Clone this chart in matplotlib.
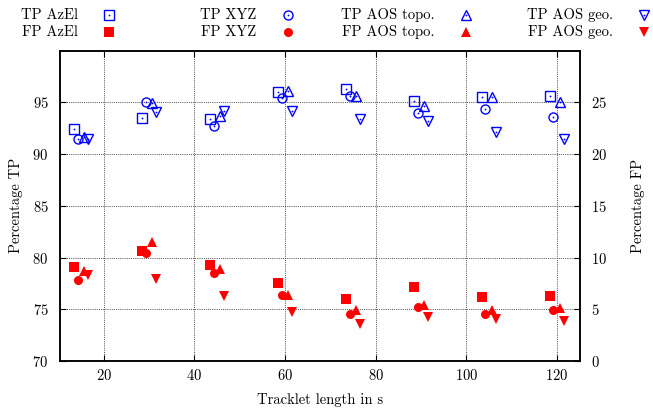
import numpy as np
import matplotlib.pyplot as plt
from matplotlib.lines import Line2D

plt.rcParams["font.family"] = ["cmr10", "DejaVu Serif"]
plt.rcParams["mathtext.fontset"] = "cm"
plt.rcParams["axes.formatter.use_mathtext"] = True
plt.rcParams["font.size"] = 10.5

lengths = np.array([15, 30, 45, 60, 75, 90, 105, 120])

tp_azel = [92.4, 93.5, 93.4, 96.0, 96.3, 95.1, 95.5, 95.6]
tp_xyz = [91.5, 95.0, 92.7, 95.4, 95.6, 94.0, 94.4, 93.6]
tp_topo = [91.7, 94.9, 93.7, 96.1, 95.6, 94.7, 95.5, 95.0]
tp_geo = [91.5, 94.1, 94.2, 94.2, 93.4, 93.2, 92.1, 91.5]

fp_azel = [9.1, 10.6, 9.3, 7.5, 6.0, 7.2, 6.2, 6.3]
fp_xyz = [7.8, 10.4, 8.5, 6.4, 4.5, 5.2, 4.5, 4.9]
fp_topo = [8.7, 11.5, 8.9, 6.4, 4.9, 5.4, 4.9, 5.1]
fp_geo = [8.3, 7.9, 6.3, 4.7, 3.6, 4.3, 4.1, 3.9]

methods = ["AzEl", "XYZ", "AOS topo.", "AOS geo."]
tp_all = [tp_azel, tp_xyz, tp_topo, tp_geo]
fp_all = [fp_azel, fp_xyz, fp_topo, fp_geo]

# small horizontal shift so the four methods don't overlap
shifts = [-1.5, -0.75, 0.75, 1.5]
markers = ["s", "o", "^", "v"]
blue = "#0000ff"
red = "#ff0000"

fig = plt.figure(figsize=(6.53, 4.12), dpi=100)
ax = fig.add_axes([0.0914, 0.1238, 0.7968, 0.7531])
ax2 = ax.twinx()

for tp, fp, m, dx in zip(tp_all, fp_all, markers, shifts):
    x = lengths + dx
    ax.plot(x, tp, ls="none", marker=m, ms=6.5, mfc="none", mec=blue, mew=1.0)
    ax.plot(x, tp, ls="none", marker="o", ms=1.3, mfc=blue, mec=blue, mew=0)
    ax2.plot(x, fp, ls="none", marker=m, ms=6.5, mfc=red, mec=red, mew=0)

ax.set_xlim(10.3, 125.1)
ax.set_ylim(70, 100)
ax2.set_ylim(0, 30)
ax.set_xticks([20, 40, 60, 80, 100, 120])
ax.set_yticks([70, 75, 80, 85, 90, 95])
ax2.set_yticks([0, 5, 10, 15, 20, 25])

ax.grid(True, color="0.3", ls=(0, (1, 1.2)), lw=0.7)
ax.tick_params(direction="in", length=4, width=0.8, top=True, right=False, pad=8)
ax.tick_params(axis="x", pad=5)
ax2.tick_params(direction="in", length=4, width=0.8, pad=8)
for a in (ax, ax2):
    for s in a.spines.values():
        s.set_linewidth(1.1)

ax.set_xlabel("Tracklet length in s")
ax.set_ylabel("Percentage TP")
ax2.set_ylabel("Percentage FP")
ax.xaxis.set_label_coords(0.5, -0.103)
ax.yaxis.set_label_coords(-0.07, 0.5)
ax2.yaxis.set_label_coords(1.098, 0.5)

# gnuplot-style key above the plot
W, H = 653.0, 412.0
for i, (name, m) in enumerate(zip(methods, markers)):
    mx = (109.3 + 178.3 * i) / W
    for kind, y in [("TP", 14.7), ("FP", 32.0)]:
        fy = 1 - y / H
        fig.text(mx - 31 / W, fy, f"{kind} {name}", ha="right", va="center")
        if kind == "TP":
            fig.add_artist(Line2D([mx], [fy], marker=m, ms=6.5, mfc="none",
                                  mec=blue, mew=1.0, transform=fig.transFigure))
            fig.add_artist(Line2D([mx], [fy], marker="o", ms=1.3, mfc=blue,
                                  mew=0, transform=fig.transFigure))
        else:
            fig.add_artist(Line2D([mx], [fy], marker=m, ms=6.5, mfc=red,
                                  mec=red, mew=0, transform=fig.transFigure))

fig.savefig("out.png", dpi=100)
